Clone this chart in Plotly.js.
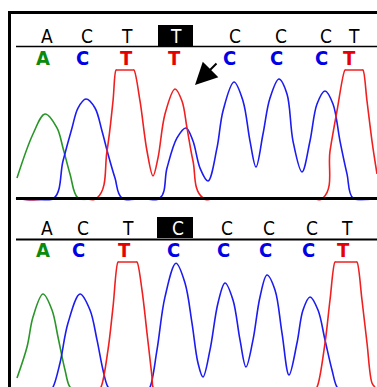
<!DOCTYPE html>
<html><head><meta charset="utf-8">
<script src="https://cdn.plot.ly/plotly-3.0.1.min.js"></script>
<style>html,body{margin:0;padding:0;background:#fff}#chart{width:377px;height:387px}</style>
</head><body><div id="chart"></div>
<script>
// ---- Upper chromatogram (sample with T) ----
const topScanA = [17,33,45,57,63,70,78,95];
const topSigA  = [156,500,656,547,391,188,0,0];
const topScanC = [16,54,63,72,78,86,95,102,108,115,122,160,167,177,186,193,200,208,217,223,234,243,250,256,263,270,279,287,293,302,310,317,325,333,340,347,353,377];
const topSigC  = [0,0,289,547,703,773,703,523,344,156,0,0,234,469,547,445,234,133,391,680,906,758,445,242,500,781,930,813,445,203,445,734,836,734,445,188,0,0];
const topScanT = [16,97,107,113,116,117,133,134,140,147,153,158,165,175,182,187,193,203,323,330,337,345,346,362,363,367,372,377];
const topSigT  = [0,0,367,758,1000,1000,1000,1000,758,367,172,313,656,852,758,547,289,0,0,367,680,1000,1000,1000,1000,758,445,188];

// ---- Lower chromatogram (sample with C) ----
const botScanA = [17,27,33,43,52,58,65,70,76];
const botSigA  = [94,336,570,750,625,414,156,23,0];
const botScanC = [16,50,53,60,68,80,90,97,103,108,112,147,150,157,165,176,185,192,198,203,210,218,225,233,240,246,253,260,267,275,282,289,297,303,310,318,325,332,337,341,377];
const botSigC  = [0,0,23,211,523,750,625,391,156,23,0,0,23,313,727,990,836,523,211,102,313,680,836,703,391,180,391,727,898,781,445,117,367,625,727,625,391,156,23,0,0];
const botScanT = [16,98,101,108,113,118,119,136,137,142,147,152,153,156,314,317,325,330,335,336,356,357,362,367,372,375];
const botSigT  = [0,0,23,313,648,1000,1000,1000,1000,781,445,102,23,0,0,23,367,703,1000,1000,1000,1000,703,367,55,23];

// ---- Base calls ----
const topRefBases  = ['A','C','T','T','C','C','C','T'];
const topRefScan   = [47,87,127,176,235,281,326,354];
const topCallBases = ['A','C','T','T','C','C','C','T'];
const topCallScan  = [43,82,126,174,229,276,321,349];
const botRefBases  = ['A','C','T','C','C','C','C','T'];
const botRefScan   = [47,83,128,178,227,269,312,347];
const botCallBases = ['A','C','T','C','C','C','C','T'];
const botCallScan  = [43,78,124,173,223,265,308,343];
const highlightIndex = 3;

const W = 377, H = 387;
const py = y => 1 - y / H;
const px = x => x / W;
const lineCol = {A:'#2a962a', C:'#1c1cf0', T:'#f02020'};
const textCol = {A:'#0b8a0b', C:'#0000e6', T:'#e60000'};

function tr(x, y, base, yaxis){
  return {x:x, y:y, type:'scatter', mode:'lines', yaxis:yaxis, hoverinfo:'skip',
    line:{color:lineCol[base], width:1.6, shape:'spline', smoothing:1}};
}
const data = [
  tr(topScanA, topSigA, 'A', 'y'), tr(topScanC, topSigC, 'C', 'y'), tr(topScanT, topSigT, 'T', 'y'),
  tr(botScanA, botSigA, 'A', 'y2'), tr(botScanC, botSigC, 'C', 'y2'), tr(botScanT, botSigT, 'T', 'y2')
];

const annotations = [];
function addRow(bases, scans, yPix, colored){
  bases.forEach((b,i)=>{
    const hl = (!colored && i===highlightIndex);
    annotations.push({x:scans[i], xref:'x', y:py(yPix), yref:'paper', text: colored ? '<b>'+b+'</b>' : b,
      showarrow:false, xanchor:'center', yanchor:'middle',
      font: colored ? {family:'Liberation Sans Narrow, DejaVu Sans Condensed, DejaVu Sans', size:20, color:textCol[b], weight:'bold'}
                    : {family:'DejaVu Sans Condensed, DejaVu Sans', size:19, color: hl ? '#fff' : '#000'}});
  });
}
addRow(topRefBases, topRefScan, 36, false);
addRow(topCallBases, topCallScan, 58, true);
addRow(botRefBases, botRefScan, 228, false);
addRow(botCallBases, botCallScan, 250, true);
annotations.push({x:195, xref:'x', y:(198-85)/0.128, yref:'y', ax:23, ay:-23, showarrow:true,
  arrowhead:2, arrowsize:2.2, arrowwidth:2, arrowcolor:'#000', standoff:0, text:''});

const shapes = [
  {type:'rect', xref:'x', yref:'paper', x0:158, x1:193, y0:py(46), y1:py(25), fillcolor:'#000', line:{width:0}, layer:'below'},
  {type:'rect', xref:'x', yref:'paper', x0:157, x1:193, y0:py(238), y1:py(217), fillcolor:'#000', line:{width:0}, layer:'below'},
  {type:'line', xref:'paper', yref:'paper', x0:px(9.5), x1:px(9.5), y0:0, y1:py(11), line:{color:'#000', width:3}},
  {type:'line', xref:'paper', yref:'paper', x0:px(8), x1:1, y0:py(12.5), y1:py(12.5), line:{color:'#000', width:3}},
  {type:'line', xref:'paper', yref:'paper', x0:px(16), x1:1, y0:py(46.5), y1:py(46.5), line:{color:'#000', width:1.6}},
  {type:'line', xref:'paper', yref:'paper', x0:px(16), x1:1, y0:py(198.5), y1:py(198.5), line:{color:'#000', width:3}},
  {type:'line', xref:'paper', yref:'paper', x0:px(16), x1:1, y0:py(239.5), y1:py(239.5), line:{color:'#000', width:2}}
];

const layout = {
  width:W, height:H, margin:{l:0,r:0,t:0,b:0}, showlegend:false,
  paper_bgcolor:'#fff', plot_bgcolor:'rgba(0,0,0,0)',
  xaxis:{range:[0,W], visible:false, fixedrange:true},
  yaxis:{domain:[py(200.56), py(66.16)], range:[-20,1030], visible:false, fixedrange:true},
  yaxis2:{domain:[0, py(258.16)], range:[23.4,1030], visible:false, fixedrange:true, anchor:'x'},
  annotations:annotations, shapes:shapes
};
Plotly.newPlot('chart', data, layout, {staticPlot:true, displayModeBar:false});
</script></body></html>
